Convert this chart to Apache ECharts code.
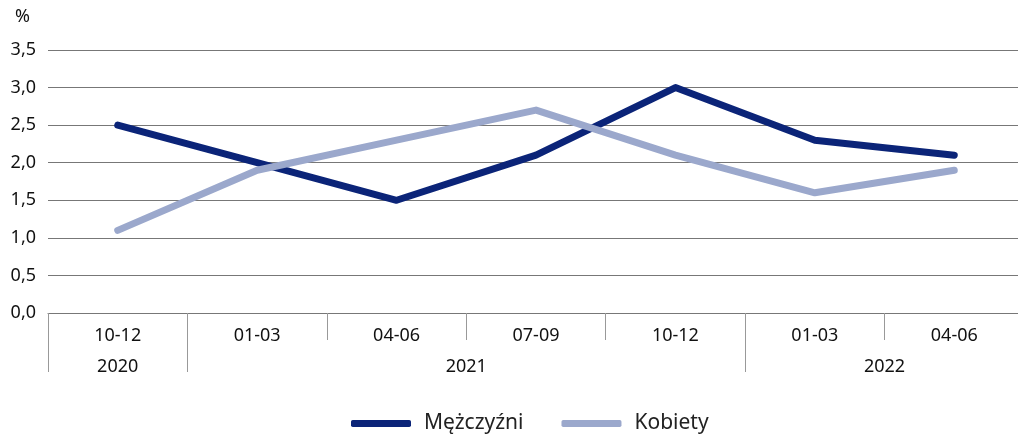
<!DOCTYPE html>
<html>
<head>
<meta charset="utf-8">
<script src="https://cdn.jsdelivr.net/npm/echarts@6/dist/echarts.min.js"></script>
<style>
  html, body { margin: 0; padding: 0; background: #fff; overflow: hidden; }
  /* plot runs a few px past the right edge, as in the source image */
  #chart { width: 1024px; height: 434px; }
</style>
</head>
<body>
<div id="chart"></div>
<script>
const quarters = ['10-12', '01-03', '04-06', '07-09', '10-12', '01-03', '04-06'];
// half-step slots used for the year row (labels sit between quarters)
const yearSlots = ['', '2020', '', '', '', '', '2021', '', '', '', '', '', '2022', '', ''];
const men = [2.5, 2.0, 1.5, 2.1, 3.0, 2.3, 2.1];
const women = [1.1, 1.9, 2.3, 2.7, 2.1, 1.6, 1.9];

const font = '"Noto Sans", sans-serif';
const chart = echarts.init(document.getElementById('chart'));

chart.setOption({
  animation: false,
  textStyle: { fontFamily: font },
  grid: { left: 48, right: 0, top: 50, bottom: 121 },
  legend: {
    bottom: -5,
    left: 346,
    itemWidth: 60,
    itemHeight: 7,
    itemGap: 38,
    icon: 'roundRect',
    textStyle: { fontSize: 21, color: '#222', fontFamily: font, padding: [0, 0, 0, 8] },
    data: ['Mężczyźni', 'Kobiety']
  },
  xAxis: [
    {
      type: 'category',
      data: quarters,
      boundaryGap: true,
      axisLine: { show: true, lineStyle: { color: '#777', width: 1 } },
      axisTick: { show: true, length: 27, lineStyle: { color: '#999' } },
      axisLabel: { fontSize: 18, color: '#111', margin: 14, fontFamily: font }
    },
    {
      type: 'category',
      data: yearSlots,
      boundaryGap: false,
      position: 'bottom',
      axisLine: { show: false },
      axisTick: {
        show: true,
        length: 59,
        interval: (i) => i === 0 || i === 2 || i === 10,
        lineStyle: { color: '#999' }
      },
      axisLabel: {
        fontSize: 18, color: '#111', margin: 45, fontFamily: font,
        interval: (i) => yearSlots[i] !== ''
      }
    }
  ],
  yAxis: {
    type: 'value',
    min: 0,
    max: 3.5,
    interval: 0.5,
    name: '%',
    nameLocation: 'end',
    nameGap: 24,
    nameTextStyle: { fontSize: 18, color: '#111', align: 'right', padding: [0, 18, 0, 0] },
    axisLine: { show: false },
    axisTick: { show: false },
    axisLabel: {
      fontSize: 18, color: '#111', margin: 12, fontFamily: font,
      formatter: (v) => v.toFixed(1).replace('.', ',')
    },
    splitLine: { show: true, lineStyle: { color: '#777', width: 1 } }
  },
  series: [
    {
      name: 'Mężczyźni',
      type: 'line',
      data: men,
      symbol: 'none',
      color: '#0b2478',
      lineStyle: { width: 7, cap: 'round', join: 'round' }
    },
    {
      name: 'Kobiety',
      type: 'line',
      data: women,
      symbol: 'none',
      color: '#9ba8cc',
      lineStyle: { width: 7, cap: 'round', join: 'round' }
    }
  ]
});
</script>
</body>
</html>
